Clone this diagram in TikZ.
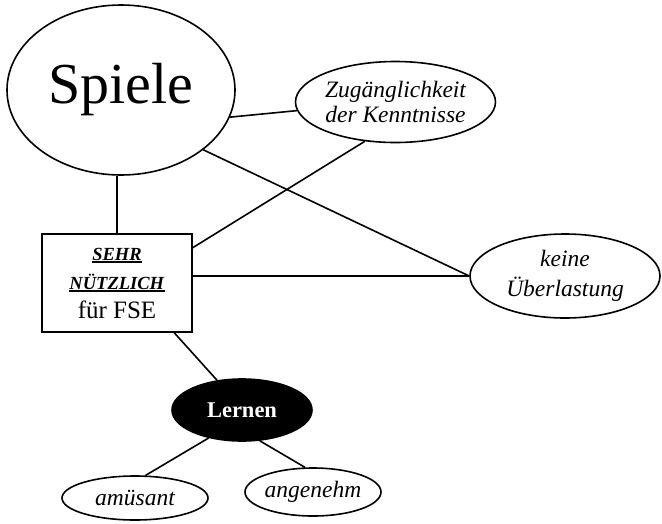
\documentclass[tikz,border=0pt]{standalone}
\usepackage{fontspec}
\setmainfont{Liberation Serif}
\usetikzlibrary{shapes.geometric}
\newcommand\dickunter[1]{\setbox0\hbox{#1}\rlap{\rule[-3pt]{\wd0}{1.6pt}}\box0}

\begin{document}
\begin{tikzpicture}[x=1pt, y=-1pt, line width=1.6pt,
    blase/.style={draw, ellipse, inner sep=0pt},
    kursiv/.style={font=\fontsize{23.5}{25}\selectfont\itshape}]
    \useasboundingbox (0,0) rectangle (662,523);

    % Knoten
    \node[blase, minimum width=228pt, minimum height=170pt,
        font=\fontsize{58}{60}\selectfont] (spiele) at (121,90) {Spiele};
    \node[blase, kursiv, minimum width=200pt, minimum height=81pt, align=center]
        (zugang) at (395.5,102) {Zugänglichkeit\\der Kenntnisse};
    \node[draw, rectangle, minimum width=150pt, minimum height=98pt, inner sep=0pt,
        align=center, font=\fontsize{18.5}{29}\selectfont] (fse) at (117,283)
        {\dickunter{\textbf{\textit{SEHR}}}\\
         \dickunter{\textbf{\textit{NÜTZLICH}}}\\
         {\fontsize{25}{29}\selectfont für FSE}};
    \node[blase, kursiv, minimum width=190pt, minimum height=84pt, align=center,
        font=\fontsize{23.5}{30}\selectfont\itshape] (keine) at (565,276)
        {keine\\Überlastung};
    \node[blase, fill=black, text=white, minimum width=140pt, minimum height=62pt,
        font=\fontsize{22.5}{24}\selectfont\bfseries] (lernen) at (242,410) {Lernen};
    \node[blase, kursiv, minimum width=146pt, minimum height=44pt]
        (amuesant) at (135,498) {amüsant};
    \node[blase, kursiv, inner xsep=-4pt, minimum width=136pt, minimum height=48pt]
        (angenehm) at (313,492) {angenehm};

    % Verbindungen
    \draw (spiele.-14) -- (zugang.185);
    \draw (fse.north) -- (fse.north |- spiele.south);
    \draw (spiele.-36) -- (keine.west);
    \draw (fse.25) -- (zugang.232);
    \draw (fse.east |- keine.west) -- (keine.west);
    \draw (fse.-41) -- (lernen.130);
    \draw (lernen.220) -- (amuesant.65);
    \draw (lernen.-60) -- (angenehm.108);
\end{tikzpicture}
\end{document}
